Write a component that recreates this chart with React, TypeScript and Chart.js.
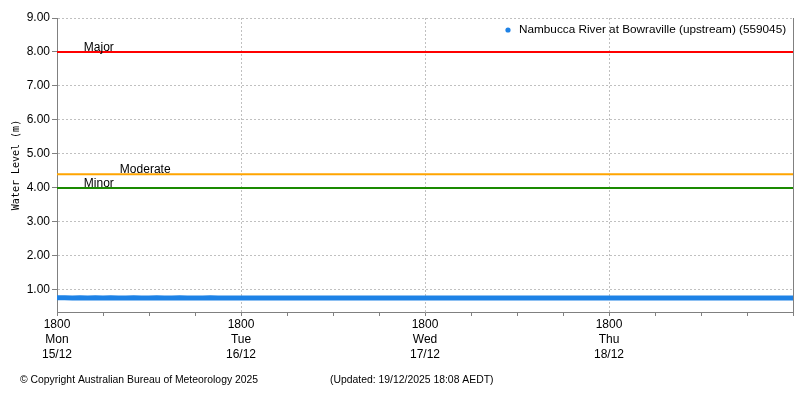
import React, { useEffect, useRef } from "react";
import { Chart, registerables } from "chart.js";

Chart.register(...registerables);

// Hours since Mon 15/12 18:00 (hourly readings) and water level (m)
const levels: number[] = [
  0.77, 0.77, 0.76, 0.77, 0.76, 0.77, 0.76, 0.77, 0.76, 0.76, 0.77, 0.76,
  0.76, 0.77, 0.76, 0.76, 0.77, 0.76, 0.76, 0.76, 0.77, 0.76, 0.76, 0.76,
  0.76, 0.76, 0.76, 0.76, 0.76, 0.76, 0.76, 0.76, 0.76, 0.76, 0.76, 0.76,
  0.76, 0.76, 0.76, 0.76, 0.76, 0.76, 0.76, 0.76, 0.76, 0.76, 0.76, 0.76,
  0.76, 0.76, 0.76, 0.76, 0.76, 0.76, 0.76, 0.76, 0.76, 0.76, 0.76, 0.76,
  0.76, 0.76, 0.76, 0.76, 0.76, 0.76, 0.76, 0.76, 0.76, 0.76, 0.76, 0.76,
  0.76, 0.76, 0.76, 0.76, 0.76, 0.76, 0.76, 0.76, 0.76, 0.76, 0.76, 0.76,
  0.76, 0.76, 0.76, 0.76, 0.76, 0.76, 0.76, 0.76, 0.76, 0.76, 0.76, 0.76,
  0.76,
];

const tickTimes = ["1800", "1800", "1800", "1800"];
const tickDays = ["Mon", "Tue", "Wed", "Thu"];
const tickDates = ["15/12", "16/12", "17/12", "18/12"];

const thresholdNames = ["Major", "Moderate", "Minor"];
const thresholdValues = [8.0, 4.4, 4.0];
const thresholdColors = ["#ff0000", "#ffa500", "#1a8a00"];
const thresholdLabelHours = [3.5, 8.2, 3.5];

const seriesName = "Nambucca River at Bowraville (upstream) (559045)";
const yTitle = "Water Level (m)";
const footerLeft = "\u00A9 Copyright Australian Bureau of Meteorology 2025";
const footerRight = "(Updated: 19/12/2025 18:08 AEDT)";

const X_MAX = 96;
const FONT = "'Liberation Sans', Arial, sans-serif";

export default function App() {
  const ref = useRef<HTMLCanvasElement | null>(null);

  useEffect(() => {
    if (!ref.current) return;
    const seriesColor = "#1e82e6";

    const extras = {
      id: "extras",
      beforeDraw(chart: any) {
        const { ctx } = chart;
        ctx.save();
        ctx.fillStyle = "#ffffff";
        ctx.fillRect(0, 0, chart.width, chart.height);
        ctx.restore();
      },
      afterDraw(chart: any) {
        const { ctx, chartArea } = chart;
        const xs = chart.scales.x;
        const ys = chart.scales.y;
        ctx.save();
        // right border
        ctx.strokeStyle = "#808080";
        ctx.lineWidth = 1;
        ctx.beginPath();
        ctx.moveTo(Math.round(chartArea.right) + 0.5, chartArea.top);
        ctx.lineTo(Math.round(chartArea.right) + 0.5, chartArea.bottom);
        ctx.stroke();

        // threshold labels
        ctx.fillStyle = "#000";
        ctx.font = `12px ${FONT}`;
        ctx.textAlign = "left";
        ctx.textBaseline = "alphabetic";
        thresholdNames.forEach((n, i) => {
          ctx.fillText(n, xs.getPixelForValue(thresholdLabelHours[i]), ys.getPixelForValue(thresholdValues[i]) - 1);
        });

        // legend
        ctx.fillStyle = seriesColor;
        ctx.beginPath();
        ctx.arc(508, 30, 2.6, 0, Math.PI * 2);
        ctx.fill();
        ctx.fillStyle = "#000";
        ctx.textBaseline = "middle";
        ctx.font = `11.75px ${FONT}`;
        ctx.fillText(seriesName, 519, 30);

        // y title
        ctx.save();
        ctx.translate(16, (chartArea.top + chartArea.bottom) / 2);
        ctx.rotate(-Math.PI / 2);
        ctx.textAlign = "center";
        ctx.font = `10px 'DejaVu Sans Mono', monospace`;
        ctx.fillText(yTitle, 0, 0);
        ctx.restore();

        // footer
        ctx.font = `10.4px ${FONT}`;
        ctx.textAlign = "left";
        ctx.fillText(footerLeft, 20, 380);
        ctx.fillText(footerRight, 330, 380);
        ctx.restore();
      },
    };

    const thresholdSets = thresholdNames.map((n, i) => ({
      label: n,
      data: [
        { x: 0, y: thresholdValues[i] },
        { x: X_MAX, y: thresholdValues[i] },
      ],
      borderColor: thresholdColors[i],
      borderWidth: 2,
      pointRadius: 0,
      order: 1,
    }));

    const chart = new Chart(ref.current, {
      type: "line",
      data: {
        datasets: [
          {
            label: seriesName,
            data: levels.map((v, i) => ({ x: i, y: v })),
            borderColor: seriesColor,
            backgroundColor: seriesColor,
            borderWidth: 5,
            borderCapStyle: "butt",
            pointRadius: 0,
            order: 2,
          },
          ...thresholdSets,
        ] as any,
      },
      options: {
        animation: false,
        responsive: false,
        devicePixelRatio: 1,
        layout: { padding: { top: 18, right: 7, left: 0, bottom: 0 } },
        plugins: { legend: { display: false }, tooltip: { enabled: false } },
        scales: {
          x: {
            type: "linear",
            min: 0,
            max: X_MAX,
            afterFit: (s: any) => {
              s.height = 88;
            },
            ticks: {
              stepSize: 6,
              autoSkip: false,
              maxRotation: 0,
              padding: 1,
              color: "#000",
              font: { family: FONT, size: 12, lineHeight: 1.25 },
              callback: (v: any) => {
                const idx = Number(v) / 24;
                if (Number.isInteger(idx) && idx < tickTimes.length) {
                  return [tickTimes[idx], tickDays[idx], tickDates[idx]];
                }
                return "";
              },
            },
            grid: {
              color: (c: any) => {
                const v = c.tick ? c.tick.value : 0;
                return v % 24 === 0 && v > 0 && v < X_MAX ? "#c0c0c0" : "rgba(0,0,0,0)";
              },
              tickColor: "#808080",
              tickLength: 4,
              lineWidth: 1,
            },
            border: { color: "#808080", dash: [2, 2] },
          },
          y: {
            type: "linear",
            min: 0.35,
            max: 9,
            afterFit: (s: any) => {
              s.width = 57;
            },
            afterBuildTicks: (s: any) => {
              s.ticks = s.ticks.filter(
                (t: any) => Math.abs(t.value - Math.round(t.value)) < 1e-6 && t.value >= 1
              );
            },
            ticks: {
              stepSize: 1,
              padding: 2,
              color: "#000",
              font: { family: FONT, size: 12 },
              callback: (v: any) => Number(v).toFixed(2),
            },
            grid: {
              color: "#c0c0c0",
              tickColor: "#808080",
              tickLength: 5,
            },
            border: { color: "#808080", dash: [2, 2] },
          },
        },
      } as any,
      plugins: [extras],
    });
    return () => chart.destroy();
  }, []);

  return (
    <div style={{ position: "absolute", left: 0, top: 0, width: 800, height: 400 }}>
      <canvas ref={ref} width={800} height={400} />
    </div>
  );
}
